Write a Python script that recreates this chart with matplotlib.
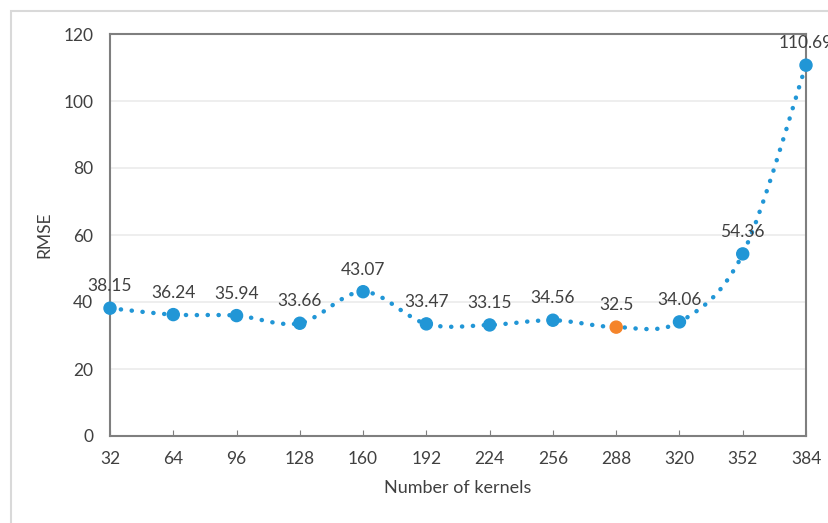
import numpy as np
import matplotlib.pyplot as plt
from matplotlib.path import Path
from matplotlib.patches import PathPatch, Rectangle

kernels = [32, 64, 96, 128, 160, 192, 224, 256, 288, 320, 352, 384]
rmse = [38.15, 36.24, 35.94, 33.66, 43.07, 33.47, 33.15, 34.56, 32.5, 34.06, 54.36, 110.69]
labels = ["38.15", "36.24", "35.94", "33.66", "43.07", "33.47", "33.15",
          "34.56", "32.5", "34.06", "54.36", "110.69"]
best_idx = 8

BLUE = "#2196D6"
ORANGE = "#F5842A"
AXIS = "#7f7f7f"
TEXT = "#404040"

plt.rcParams["font.family"] = ["Lato", "DejaVu Sans"]


def smooth_path(xs, ys):
    # catmull-rom style bezier, like the spreadsheet smoothed line
    verts = [(xs[0], ys[0])]
    codes = [Path.MOVETO]
    n = len(xs)
    for i in range(n - 1):
        x0, y0 = (xs[i - 1], ys[i - 1]) if i > 0 else (xs[i], ys[i])
        x1, y1 = xs[i], ys[i]
        x2, y2 = xs[i + 1], ys[i + 1]
        x3, y3 = (xs[i + 2], ys[i + 2]) if i + 2 < n else (x2, y2)
        c1 = (x1 + (x2 - x0) / 6, y1 + (y2 - y0) / 6)
        c2 = (x2 - (x3 - x1) / 6, y2 - (y3 - y1) / 6)
        verts += [c1, c2, (x2, y2)]
        codes += [Path.CURVE4] * 3
    return Path(verts, codes)


fig = plt.figure(figsize=(8.29, 5.23), dpi=100)
fig.patches.append(Rectangle((11 / 829, -0.1), 1.2, 1.1 - 11 / 523,
                             transform=fig.transFigure, fill=False,
                             edgecolor="#d9d9d9", linewidth=1.5))
ax = fig.add_axes([110 / 829, 1 - 436 / 523, 696 / 829, 402 / 523])

patch = PathPatch(smooth_path(kernels, rmse), fill=False, edgecolor=BLUE,
                  linewidth=3.2, linestyle=(0, (0.05, 2.4)), capstyle="round",
                  zorder=2)
ax.add_patch(patch)

colors = [ORANGE if i == best_idx else BLUE for i in range(len(kernels))]
ax.scatter(kernels, rmse, s=75, c=colors, zorder=3, clip_on=False)

for x, y, t in zip(kernels, rmse, labels):
    ax.annotate(t, (x, y), xytext=(0, 10), textcoords="offset points",
                ha="center", va="bottom", fontsize=12.5, color=TEXT)

ax.set_xlim(32, 384)
ax.set_ylim(0, 120)
ax.set_xticks(kernels)
ax.set_yticks(np.arange(0, 121, 20))
ax.yaxis.grid(True, color="#ebebeb", linewidth=1.2)
ax.set_axisbelow(True)
for s in ax.spines.values():
    s.set_color(AXIS)
    s.set_linewidth(1.5)
ax.tick_params(direction="in", length=4, color=AXIS, labelsize=12.5,
               labelcolor=TEXT, pad=11)
ax.tick_params(axis="y", length=0, pad=12)
ax.set_xlabel("Number of kernels", fontsize=13, color=TEXT, labelpad=9)
ax.set_ylabel("RMSE", fontsize=12.5, color=TEXT, labelpad=8)

fig.savefig("out.png", dpi=100)
